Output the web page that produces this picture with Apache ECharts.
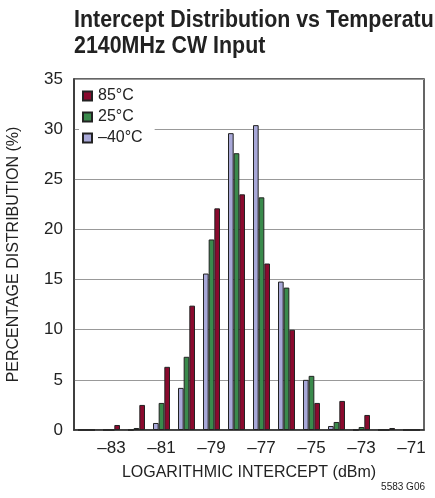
<!DOCTYPE html>
<html>
<head>
<meta charset="utf-8">
<script src="https://cdn.jsdelivr.net/npm/echarts@6/dist/echarts.min.js"></script>
<style>
html,body{margin:0;padding:0;background:#fff;}
#chart{width:435px;height:498px;}
</style>
</head>
<body>
<div id="chart"></div>
<script>
const categories = [-84, -83, -82, -81, -80, -79, -78, -77, -76, -75, -74, -73, -72, -71];
const seriesNames = ['85°C', '25°C', '–40°C'];
const valuesM40 = [0, 0, 0, 0.7, 4.2, 15.6, 29.6, 30.4, 14.8, 5.0, 0.4, 0, 0, 0];
const values25 = [0, 0, 0.2, 2.7, 7.3, 19.0, 27.6, 23.2, 14.2, 5.4, 0.8, 0.3, 0, 0];
const values85 = [0, 0.5, 2.5, 6.3, 12.4, 22.1, 23.5, 16.6, 10.0, 2.7, 2.9, 1.5, 0.2, 0];
const yTicks = [0, 5, 10, 15, 20, 25, 30, 35];

const FONT = "'Liberation Sans', Arial, sans-serif";
const chart = echarts.init(document.getElementById('chart'));
const dash = s => String(s).replace('-', '–');

function barSeries(name, data, color) {
  return {
    name: name,
    type: 'bar',
    data: data,
    barGap: '0%',
    barCategoryGap: '32%',
    itemStyle: { color: color, borderColor: '#222', borderWidth: 1 },
    emphasis: { disabled: true }
  };
}

chart.setOption({
  animation: false,
  backgroundColor: '#fff',
  legend: {
    data: seriesNames,
    orient: 'vertical',
    icon: 'rect',
    left: 79,
    top: 85,
    itemWidth: 9,
    itemHeight: 9,
    itemGap: 5,
    backgroundColor: '#fff',
    padding: [3, 12, 3, 3],
    textStyle: { fontFamily: FONT, fontSize: 16, color: '#222', padding: [0, 0, 0, 1] }
  },
  grid: {
    left: 74, top: 79, right: 11, bottom: 68,
    outerBoundsMode: 'none',
    containLabel: false,
    show: true, borderColor: '#333', borderWidth: 1.5, backgroundColor: 'transparent'
  },
  xAxis: {
    type: 'category',
    data: categories,
    name: 'LOGARITHMIC INTERCEPT (dBm)',
    nameLocation: 'middle',
    nameGap: 35,
    nameTextStyle: { fontFamily: FONT, fontSize: 16, color: '#222' },
    axisLine: { lineStyle: { color: '#333', width: 1.5 } },
    axisTick: { show: false },
    axisLabel: {
      interval: (idx) => idx % 2 === 1,
      formatter: v => dash(v),
      fontFamily: FONT, fontSize: 17, color: '#222', margin: 10
    },
    splitLine: { show: false }
  },
  yAxis: {
    type: 'value',
    min: yTicks[0],
    max: yTicks[yTicks.length - 1],
    interval: 5,
    name: 'PERCENTAGE DISTRIBUTION (%)',
    nameLocation: 'middle',
    nameGap: 52,
    nameTextStyle: { fontFamily: FONT, fontSize: 16, color: '#222' },
    axisLine: { show: true, lineStyle: { color: '#333', width: 1.5 } },
    axisTick: { show: false },
    axisLabel: { fontFamily: FONT, fontSize: 17, color: '#222', margin: 11 },
    splitLine: { lineStyle: { color: '#999', width: 1 } }
  },
  series: [
    barSeries('–40°C', valuesM40, '#a8a8d8'),
    barSeries('25°C', values25, '#3a8a4c'),
    barSeries('85°C', values85, '#8a0a2e')
  ],
  graphic: [{
    type: 'text',
    left: 74,
    top: 8,
    scaleX: 0.93,
    style: {
      text: 'Intercept Distribution vs Temperature\n2140MHz CW Input',
      fontFamily: FONT, fontWeight: 'bold', fontSize: 23, lineHeight: 26, fill: '#222'
    }
  }, {
    type: 'text',
    right: 10,
    bottom: 6,
    style: { text: '5583 G06', fontFamily: FONT, fontSize: 10, fill: '#222' }
  }]
});
</script>
</body>
</html>
